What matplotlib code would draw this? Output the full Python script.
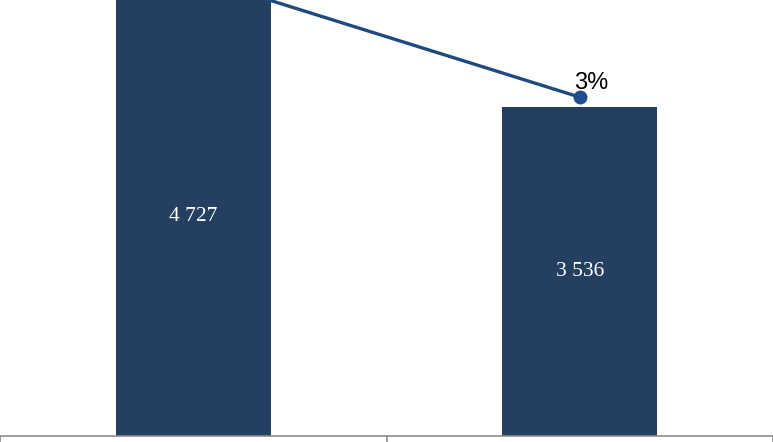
import matplotlib
matplotlib.use("Agg")
import matplotlib.pyplot as plt
from matplotlib.transforms import offset_copy

CATEGORIES = ["A", "B"]
VALUES = [4727, 3536]
VALUE_LABELS = ["4 727", "3 536"]
SHARE = [4.07, 3.0]
SHARE_LABELS = ["4%", "3%"]

BAR = "#243F60"
LINE = "#1F4A80"

fig = plt.figure(figsize=(7.73, 4.42), dpi=100)
ax = fig.add_axes([0, 6 / 442, 1, 436 / 442])
x = list(range(len(CATEGORIES)))
ax.bar(x, VALUES, width=0.4, color=BAR, zorder=2)
ax.set_xlim(-0.5, 1.5)
ax.set_ylim(0, 4686)
for xi, v, lab in zip(x, VALUES, VALUE_LABELS):
    ax.text(xi, v / 2, lab, ha="center", va="center",
            color="white", fontsize=15.5, family="Liberation Serif", zorder=3)

for s in ["top", "left", "right"]:
    ax.spines[s].set_visible(False)
ax.spines["bottom"].set_color("#8c8c8c")
ax.spines["bottom"].set_linewidth(1.2)
ax.set_yticks([])
ax.set_xticks([])
ax.set_xticks([-0.5, 0.5, 1.5], minor=True)
ax.tick_params(axis="x", which="minor", length=7, color="#8c8c8c", width=1.2,
               labelbottom=False)

ax2 = ax.twinx()
ax2.set_ylim(0, 3.86)
ax2.axis("off")
ax2.plot(x, SHARE, color=LINE, lw=2.4, marker="o", markersize=9,
         markerfacecolor="#1F4E8C", markeredgecolor="#1F4E8C", clip_on=True)
tr = offset_copy(ax2.transData, fig=fig, x=11, y=3, units="dots")
ax2.text(x[1], SHARE[1], SHARE_LABELS[1], ha="center", va="bottom", transform=tr,
         fontsize=17, family="Liberation Sans", color="black")

fig.savefig("out.png", dpi=100)
